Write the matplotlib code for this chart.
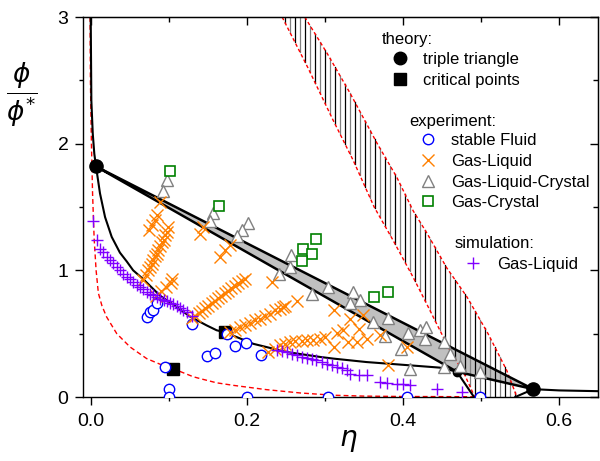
import numpy as np
import matplotlib
matplotlib.use('Agg')
import matplotlib.pyplot as plt
from matplotlib.ticker import MultipleLocator

plt.rcParams['font.family'] = ['Liberation Sans', 'DejaVu Sans']
plt.rcParams['mathtext.fontset'] = 'dejavusans'

# ---------------- theory ----------------
triple_eta = [0.0064, 0.469, 0.567]
triple_phi = [1.82, 0.200, 0.062]
crit_eta = [0.105, 0.172]
crit_phi = [0.224, 0.51]

binodal_eta = [-0.0004, 0.0004, 0.0022, 0.0042, 0.0064, 0.0115, 0.018, 0.0265, 0.037, 0.0458,
               0.054, 0.067, 0.0885, 0.110, 0.127, 0.148, 0.161, 0.172, 0.208, 0.251,
               0.294, 0.311, 0.353, 0.396, 0.447, 0.469]
binodal_phi = [3.0, 2.34, 2.08, 1.92, 1.82, 1.607, 1.42, 1.264, 1.14, 1.07,
               1.0, 0.93, 0.80, 0.71, 0.635, 0.566, 0.527, 0.51, 0.42, 0.355,
               0.316, 0.303, 0.276, 0.256, 0.232, 0.200]
fluid_eta = [0.469, 0.491]
fluid_phi = [0.200, 0.0]
crystal_eta = [0.544, 0.567, 0.600, 0.650]
crystal_phi = [0.0, 0.062, 0.052, 0.046]

# other theory (red dashed)
red_bin_eta = [-0.0012, -0.0008, 0.0005, 0.002, 0.004, 0.0065, 0.0094, 0.014, 0.020, 0.033,
               0.050, 0.0714, 0.090, 0.105, 0.131, 0.140, 0.161, 0.1825, 0.225, 0.268,
               0.311, 0.350, 0.400, 0.450, 0.492]
red_bin_phi = [3.0, 2.5, 2.0, 1.6, 1.25, 1.0, 0.82, 0.72, 0.632, 0.50,
               0.395, 0.303, 0.255, 0.224, 0.160, 0.145, 0.112, 0.092, 0.058, 0.032,
               0.014, 0.007, 0.004, 0.003, 0.002]
redL_eta = [0.245, 0.278, 0.310, 0.336, 0.363, 0.387, 0.413, 0.428, 0.460, 0.478, 0.492]
redL_phi = [3.0, 2.60, 2.19, 1.87, 1.50, 1.24, 0.945, 0.764, 0.37, 0.19, 0.0]
redR_eta = [0.274, 0.303, 0.332, 0.367, 0.392, 0.413, 0.431, 0.456, 0.482, 0.509, 0.533, 0.546]
redR_phi = [3.0, 2.71, 2.40, 2.0, 1.735, 1.47, 1.29, 1.02, 0.79, 0.50, 0.21, 0.0]

# ---------------- experiment ----------------
fluid_x = [0.072, 0.076, 0.079, 0.085, 0.129, 0.149, 0.159, 0.174, 0.185, 0.199,
           0.218, 0.095, 0.0994, 0.0994, 0.200, 0.304, 0.405, 0.499]
fluid_y = [0.63, 0.67, 0.685, 0.745, 0.58, 0.32, 0.345, 0.50, 0.40, 0.43,
           0.33, 0.24, 0.06, 0.0, 0.0, 0.0, 0.0, 0.0]

gl_x = [0.067, 0.071, 0.0735, 0.076, 0.078, 0.080, 0.082, 0.084, 0.086, 0.0885,
        0.091, 0.093, 0.095, 0.097, 0.099, 0.074, 0.078, 0.082, 0.084, 0.0885,
        0.083, 0.090, 0.096, 0.102, 0.104,
        0.129, 0.133, 0.138, 0.142, 0.146, 0.150, 0.155, 0.159, 0.163, 0.167,
        0.172, 0.176, 0.180, 0.184, 0.188, 0.193, 0.197,
        0.178, 0.185, 0.191, 0.197, 0.204, 0.210, 0.217, 0.223, 0.229, 0.236,
        0.242, 0.249, 0.264,
        0.227, 0.236, 0.242, 0.249, 0.255, 0.262, 0.270, 0.2765, 0.285, 0.294,
        0.300, 0.311, 0.315, 0.3235, 0.330, 0.341, 0.3535,
        0.311, 0.332, 0.343, 0.349, 0.3705, 0.381, 0.405, 0.2465, 0.232,
        0.140, 0.144, 0.1654, 0.172, 0.178]
gl_y = [0.92, 0.96, 1.00, 1.03, 1.05, 1.08, 1.11, 1.13, 1.16, 1.19,
        1.22, 1.24, 1.28, 1.30, 1.34, 1.32, 1.36, 1.40, 1.44, 1.54,
        0.80, 0.84, 0.87, 0.90, 0.93,
        0.62, 0.64, 0.66, 0.68, 0.70, 0.72, 0.74, 0.76, 0.78, 0.80,
        0.82, 0.84, 0.86, 0.88, 0.90, 0.915, 0.935,
        0.513, 0.527, 0.553, 0.566, 0.585, 0.606, 0.619, 0.637, 0.659, 0.685,
        0.698, 0.716, 0.758,
        0.355, 0.382, 0.408, 0.416, 0.434, 0.44, 0.442, 0.453, 0.448, 0.461,
        0.474, 0.395, 0.506, 0.527, 0.434, 0.434, 0.461,
        0.685, 0.619, 0.54, 0.645, 0.487, 0.25, 0.395, 0.711, 0.908,
        1.29, 1.343, 1.106, 1.159, 1.198]

glc_x = [0.097, 0.0927, 0.157, 0.1526, 0.2017, 0.193, 0.187, 0.256, 0.255, 0.241,
         0.283, 0.304, 0.336, 0.332, 0.345, 0.362, 0.381, 0.377, 0.407, 0.422,
         0.430, 0.428, 0.452, 0.460, 0.398, 0.409, 0.452, 0.473, 0.499]
glc_y = [1.71, 1.63, 1.45, 1.39, 1.37, 1.317, 1.27, 1.12, 1.025, 0.97,
         0.817, 0.87, 0.83, 0.74, 0.764, 0.59, 0.62, 0.48, 0.505, 0.53,
         0.55, 0.46, 0.434, 0.343, 0.38, 0.224, 0.237, 0.242, 0.197]

gc_x = [0.101, 0.1645, 0.288, 0.272, 0.283, 0.270, 0.363, 0.381]
gc_y = [1.785, 1.506, 1.246, 1.172, 1.127, 1.072, 0.79, 0.83]

# ---------------- simulation ----------------
sim_x = [0.002, 0.0073, 0.0115, 0.0158, 0.020, 0.024, 0.0286, 0.033, 0.037, 0.041,
         0.0458, 0.050, 0.0542, 0.0585, 0.0628, 0.067, 0.0714, 0.0757, 0.080, 0.084,
         0.0885, 0.093, 0.097, 0.101, 0.1055, 0.110, 0.114, 0.118, 0.1227, 0.129,
         0.238, 0.2445, 0.251, 0.2575, 0.264, 0.270, 0.2765, 0.283, 0.289, 0.296,
         0.302, 0.3085, 0.315, 0.3215, 0.328, 0.332, 0.343, 0.3535, 0.3705, 0.379,
         0.392, 0.400, 0.409, 0.443, 0.475]
sim_y = [1.39, 1.24, 1.17, 1.145, 1.106, 1.08, 1.054, 1.027, 1.0, 0.975,
         0.948, 0.93, 0.908, 0.888, 0.869, 0.85, 0.829, 0.815, 0.803, 0.79,
         0.777, 0.767, 0.758, 0.745, 0.732, 0.72, 0.706, 0.69, 0.671, 0.637,
         0.369, 0.361, 0.355, 0.342, 0.329, 0.316, 0.311, 0.303, 0.290, 0.277,
         0.263, 0.250, 0.237, 0.229, 0.216, 0.185, 0.171, 0.171, 0.118, 0.111,
         0.106, 0.10, 0.092, 0.066, 0.04]

C_BLUE = '#0000ff'
C_ORANGE = '#ff8000'
C_GRAY = '#808080'
C_GREEN = '#008000'
C_PURPLE = '#8000ff'
C_RED = '#ff0000'

fig = plt.figure(figsize=(6.0, 4.61), dpi=100)
ax = fig.add_axes([83/600, 1-397/461, 515/600, 380/461])
ax.set_xlim(-0.0103, 0.65)
ax.set_ylim(0, 3)

# hatched band (fluid-crystal coexistence of the other theory)
step = 0.00641
hx = np.arange(0.2487, 0.546, step)
lo = np.interp(hx, redL_eta, redL_phi)
hi = np.interp(hx, redR_eta, redR_phi)
for i, (e, a, b) in enumerate(zip(hx, lo, hi)):
    if b > a:
        ax.plot([e, e], [a, b], color='black' if i % 2 == 0 else '#808080', lw=0.9, zorder=2)

# triple triangle
ax.fill(triple_eta, triple_phi, facecolor='#c0c0c0', edgecolor='none', zorder=1.5)
ax.plot(triple_eta + [triple_eta[0]], triple_phi + [triple_phi[0]], color='black', lw=1.8, zorder=3)

ax.plot(red_bin_eta, red_bin_phi, color=C_RED, lw=1.0, ls=(0, (3.5, 2.2)), zorder=2.5)
ax.plot(redL_eta, redL_phi, color=C_RED, lw=1.0, ls=(0, (2.5, 1.8)), zorder=2.5)
ax.plot(redR_eta, redR_phi, color=C_RED, lw=1.0, ls=(0, (2.5, 1.8)), zorder=2.5)

ax.plot(binodal_eta, binodal_phi, color='black', lw=1.5, zorder=3)
ax.plot(fluid_eta, fluid_phi, color='black', lw=1.5, zorder=3)
ax.plot(crystal_eta, crystal_phi, color='black', lw=1.5, zorder=3)

# theory markers
ax.plot(triple_eta[0], triple_phi[0], 'o', color='black', ms=9.5, zorder=4)
ax.plot(triple_eta[1], triple_phi[1], 'o', color='black', ms=6, zorder=4)
ax.plot(triple_eta[2], triple_phi[2], 'o', color='black', ms=9.5, zorder=4)
ax.plot(crit_eta, crit_phi, 's', color='black', ms=8, ls='none', zorder=4)

# experiment
ax.plot(fluid_x, fluid_y, 'o', ls='none', mec=C_BLUE, mfc='white', ms=7.5, mew=1.0, zorder=5)
ax.plot(glc_x, glc_y, '^', ls='none', mec=C_GRAY, mfc='white', ms=8, mew=1.0, zorder=5)
ax.plot(gc_x, gc_y, 's', ls='none', mec=C_GREEN, mfc='white', ms=6.5, mew=1.2, zorder=5)
ax.plot(gl_x, gl_y, 'x', ls='none', color=C_ORANGE, ms=8, mew=1.0, zorder=6)
ax.plot(sim_x, sim_y, '+', ls='none', color=C_PURPLE, ms=9, mew=1.0, zorder=6)

# axes styling
for s in ax.spines.values():
    s.set_linewidth(1.0)
ax.xaxis.set_minor_locator(MultipleLocator(0.1))
ax.yaxis.set_minor_locator(MultipleLocator(0.5))
ax.set_xticks([0.0, 0.2, 0.4, 0.6])
ax.set_xticklabels(['0.0', '0.2', '0.4', '0.6'])
ax.set_yticks([0, 1, 2, 3])
ax.set_yticklabels(['0', '1', '2', '3'])
ax.tick_params(which='major', direction='out', length=5.5, width=1.0, labelsize=14)
ax.tick_params(axis='x', which='major', pad=6)
ax.tick_params(axis='y', which='major', pad=5)
ax.tick_params(which='minor', direction='out', length=3, width=1.0)

secx = ax.secondary_xaxis('top')
secx.xaxis.set_major_locator(MultipleLocator(0.2))
secx.xaxis.set_minor_locator(MultipleLocator(0.1))
secx.tick_params(which='major', direction='in', length=5.5, width=1.0, labeltop=False)
secx.tick_params(which='minor', direction='in', length=3.5, width=1.0)
secy = ax.secondary_yaxis('right')
secy.yaxis.set_major_locator(MultipleLocator(1))
secy.yaxis.set_minor_locator(MultipleLocator(0.5))
secy.tick_params(which='major', direction='in', length=5.5, width=1.0, labelright=False)
secy.tick_params(which='minor', direction='in', length=3.5, width=1.0)

# axis labels
ax.text((348-83)/515, (397-441)/380, r'$\eta$', transform=ax.transAxes,
        ha='center', va='center', fontsize=20)
ax.text((22-83)/515, (397-95)/380, r'$\dfrac{\phi}{\phi^{*}}$', transform=ax.transAxes,
        ha='center', va='center', fontsize=19)

# legend (manual layout)
def ax_xy(X, Y):
    return (X - 83) / 515, (397 - Y) / 380

def key(X, Y, **kw):
    x, y = ax_xy(X, Y)
    ax.plot([x], [y], transform=ax.transAxes, ls='none', clip_on=False, zorder=7, **kw)

def label(X, Y, s):
    x, y = ax_xy(X, Y + 6)
    ax.text(x, y, s, transform=ax.transAxes, ha='left', va='baseline', fontsize=12, zorder=7)

label(382, 38, 'theory:')
key(400, 58, marker='o', color='black', ms=9)
label(423, 58, 'triple triangle')
key(400, 79, marker='s', color='black', ms=8)
label(423, 79, 'critical points')

label(409, 120, 'experiment:')
key(428, 139, marker='o', mec=C_BLUE, mfc='white', ms=7.5, mew=1.0)
label(451, 139, 'stable Fluid')
key(428, 160, marker='x', color=C_ORANGE, ms=8, mew=1.0)
label(451, 160, 'Gas-Liquid')
key(428, 181, marker='^', mec=C_GRAY, mfc='white', ms=8, mew=1.0)
label(451, 181, 'Gas-Liquid-Crystal')
key(428, 201, marker='s', mec=C_GREEN, mfc='white', ms=6.5, mew=1.2)
label(451, 201, 'Gas-Crystal')

label(455, 242, 'simulation:')
key(473, 263, marker='+', color=C_PURPLE, ms=9, mew=1.0)
label(497, 263, 'Gas-Liquid')

fig.savefig('out.png', dpi=100)
